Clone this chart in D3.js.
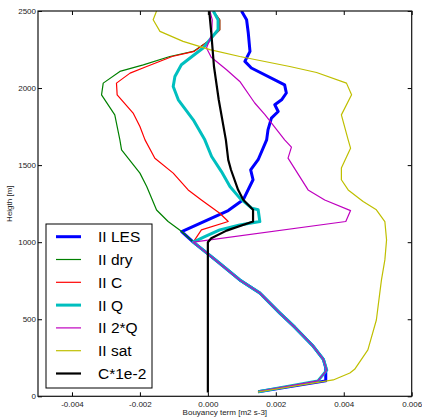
<!DOCTYPE html>
<html><head><meta charset="utf-8">
<script src="https://cdn.jsdelivr.net/npm/d3@7"></script>
<style>body{margin:0;background:#fff}svg{display:block}</style>
</head><body>
<svg id="c" width="422" height="417"></svg>
<script>
// Common lower part shared by most profiles [height, value]
const commonLow = [[30,0.00148],[100,0.00324],[170,0.0035],[240,0.0034],[330,0.00308],[450,0.00255],[540,0.00212],[670,0.00153],[755,0.00094],[880,0.00025],[1000,-0.00043]];
const lesLow = [[30,0.00148],[100,0.00347],[185,0.00347],[240,0.0034],[330,0.00308],[450,0.00255],[540,0.00212],[670,0.00153],[755,0.00094],[880,0.00025],[1000,-0.00043]];
const lesUp = [[1069,-0.00077],[1205,0.0006],[1275,0.00104],[1405,0.00133],[1469,0.00126],[1535,0.00148],[1664,0.00173],[1729,0.00177],[1805,0.00187],[1848,0.00207],[1892,0.00197],[1924,0.00217],[1968,0.00231],[2021,0.00226],[2130,0.00128],[2173,0.00109],[2238,0.00124],[2357,0.00119],[2443,0.00114],[2500,0.00099]];
const dryUp = [[1069,-0.00077],[1134,-0.00117],[1209,-0.00151],[1361,-0.0018],[1448,-0.002],[1599,-0.00254],[1664,-0.00259],[1826,-0.00274],[1956,-0.00313],[2032,-0.00308],[2108,-0.00259],[2150,-0.0019],[2205,-0.00112],[2238,-0.00043],[2303,0.00001],[2378,0.00035],[2443,0.00035],[2500,0.00016]];
const cUp = [[1080,-0.00019],[1134,0.0006],[1188,0.00035],[1274,-0.00019],[1339,-0.00058],[1448,-0.00102],[1545,-0.00156],[1664,-0.00185],[1751,-0.002],[1838,-0.0022],[1956,-0.00267],[2032,-0.00269],[2097,-0.00229],[2140,-0.0018],[2205,-0.00105],[2238,-0.0004],[2303,0.00001],[2378,0.00035],[2443,0.00035],[2500,0.00016]];
const qUp = [[1036,-0.00009],[1080,0.00035],[1112,0.00094],[1134,0.00153],[1210,0.00148],[1221,0.00129],[1286,0.00094],[1361,0.00065],[1458,0.0004],[1556,0.00011],[1664,-0.00009],[1794,-0.00043],[1924,-0.00087],[2010,-0.00102],[2075,-0.00097],[2151,-0.00078],[2216,-0.0004],[2260,-0.00014],[2378,0.0003],[2443,0.0003],[2500,0.00016]];
const q2Up = [[1134,0.00406],[1205,0.0042],[1274,0.00344],[1339,0.00295],[1545,0.00236],[1617,0.00246],[1664,0.00226],[1827,0.00168],[1903,0.00138],[2043,0.00094],[2119,0.00055],[2200,0.0001],[2260,-0.00004],[2346,0.00011],[2443,0.00013],[2500,0.00006]];
const satData = [[28,0.00147],[106,0.00369],[151,0.00418],[175,0.00432],[301,0.00471],[495,0.00496],[669,0.00506],[755,0.00511],[885,0.00521],[1015,0.00526],[1134,0.00521],[1210,0.00496],[1264,0.00457],[1339,0.00413],[1405,0.00393],[1481,0.00393],[1610,0.0042],[1664,0.00413],[1826,0.00393],[1956,0.00423],[2032,0.00408],[2101,0.0032],[2140,0.00241],[2205,0.00094],[2249,0.00006],[2303,-0.00073],[2368,-0.00141],[2443,-0.00161],[2500,-0.00151]];
const cScaled = [[24,0],[1000,0],[1026,0.0001],[1075,0.00055],[1134,0.00133],[1210,0.00133],[1275,0.00104],[1340,0.00089],[1470,0.00068],[1534,0.0006],[1664,0.00053],[1924,0.00032],[2140,0.00018],[2359,0.0001],[2500,0.00004]];

const labels = ["II LES","II dry","II C","II Q","II 2*Q","II sat","C*1e-2"];
const colors = ["#0000ff","#008000","#ff0000","#00bfbf","#bf00bf","#bfbf00","#000000"];
const widths = [3,1.2,1.2,3,1.2,1.2,2.2];
const seriesData = [lesLow.concat(lesUp), commonLow.concat(dryUp), commonLow.concat(cUp), commonLow.concat(qUp), commonLow.concat(q2Up), satData, cScaled];

const xTicks = [-0.004,-0.002,0,0.002,0.004,0.006];
const yTicks = [0,500,1000,1500,2000,2500];

const L=38, R=411.7, T=11, B=396.3;
const x = d3.scaleLinear().domain([-0.005,0.006]).range([L,R]);
const y = d3.scaleLinear().domain([0,2500]).range([B,T]);
const svg = d3.select("#c");
const font = "Liberation Sans, Arial, sans-serif";

svg.append("defs").append("clipPath").attr("id","clip").append("rect").attr("x",L).attr("y",T).attr("width",R-L).attr("height",B-T);

const line = d3.line().x(d=>x(d[1])).y(d=>y(d[0]));
const g = svg.append("g").attr("clip-path","url(#clip)");
seriesData.forEach((s,i)=>{
  g.append("path").attr("d",line(s)).attr("fill","none").attr("stroke",colors[i]).attr("stroke-width",widths[i]).attr("stroke-linejoin","round");
});

const fmt = v => d3.format(".3f")(v).replace("\u2212","-");
const ax = svg.append("g").attr("font-family",font).attr("font-size",8).attr("fill","#222");
const axB = d3.axisBottom(x).tickValues(xTicks).tickSizeInner(-4).tickSizeOuter(0).tickPadding(5).tickFormat(fmt);
const axT = d3.axisTop(x).tickValues(xTicks).tickSizeInner(-4).tickSizeOuter(0).tickFormat("");
const axLft = d3.axisLeft(y).tickValues(yTicks).tickSizeInner(-4).tickSizeOuter(0).tickPadding(2).tickFormat(d3.format("d"));
const axRt = d3.axisRight(y).tickValues(yTicks).tickSizeInner(-4).tickSizeOuter(0).tickFormat("");
[[axB,`translate(0,${B})`],[axT,`translate(0,${T})`],[axLft,`translate(${L},0)`],[axRt,`translate(${R},0)`]].forEach(([a,t])=>{
  const gg = svg.append("g").attr("transform",t).call(a);
  gg.select(".domain").remove();
  gg.selectAll("line").attr("stroke","#000");
  gg.selectAll("text").attr("font-family",font).attr("font-size",8).attr("fill","#222");
});
// extra ticks on left with outward stub like reference
svg.append("rect").attr("x",L).attr("y",T).attr("width",R-L).attr("height",B-T).attr("fill","none").attr("stroke","#111").attr("stroke-width",1.2);

svg.append("text").attr("x",(L+R)/2).attr("y",415).attr("text-anchor","middle").attr("font-family",font).attr("font-size",8).attr("fill","#222").text("Bouyancy term [m2 s-3]");
svg.append("text").attr("transform",`translate(12,${(T+B)/2}) rotate(-90)`).attr("text-anchor","middle").attr("font-family",font).attr("font-size",8).attr("fill","#222").text("Heigth [m]");

// legend
const lg = svg.append("g");
lg.append("rect").attr("x",46).attr("y",224).attr("width",106).attr("height",164).attr("fill","#fff").attr("stroke","#000").attr("stroke-width",1);
labels.forEach((lab,i)=>{
  const yy = 236.7 + i*22.8;
  lg.append("line").attr("x1",56).attr("x2",81).attr("y1",yy).attr("y2",yy).attr("stroke",colors[i]).attr("stroke-width",widths[i]);
  lg.append("text").attr("x",98).attr("y",yy+5.5).attr("font-family",font).attr("font-size",15.5).attr("fill","#000").text(lab);
});
</script>
</body></html>
